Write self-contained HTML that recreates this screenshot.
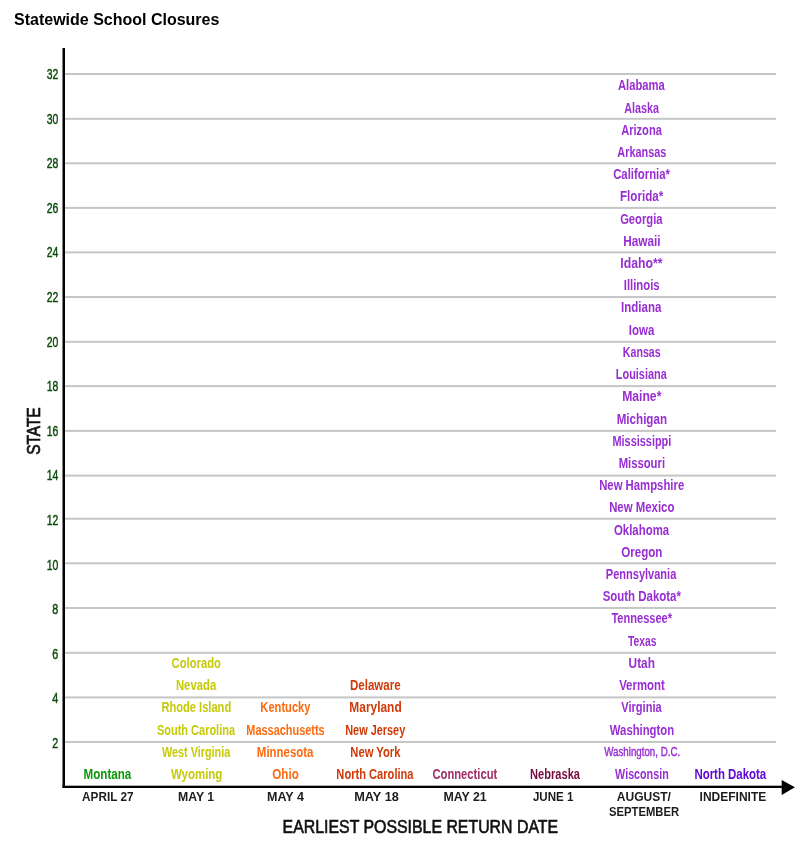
<!DOCTYPE html><html><head><meta charset="utf-8"><style>html,body{margin:0;padding:0;background:#fff;width:808px;height:844px;overflow:hidden}svg{display:block;will-change:transform}text{font-family:"Liberation Sans",sans-serif;font-weight:bold}</style></head><body>
<svg width="808" height="844" viewBox="0 0 808 844">
<rect width="808" height="844" fill="#fff"/>
<text x="14" y="25" font-size="16" fill="#000">Statewide School Closures</text>
<rect x="65" y="740.97" width="711.2" height="2" fill="#c6c6c6"/>
<rect x="65" y="696.40" width="711.2" height="2" fill="#c6c6c6"/>
<rect x="65" y="651.80" width="711.2" height="2" fill="#c6c6c6"/>
<rect x="65" y="606.95" width="711.2" height="2" fill="#c6c6c6"/>
<rect x="65" y="562.30" width="711.2" height="2" fill="#c6c6c6"/>
<rect x="65" y="517.70" width="711.2" height="2" fill="#c6c6c6"/>
<rect x="65" y="474.60" width="711.2" height="2" fill="#c6c6c6"/>
<rect x="65" y="429.90" width="711.2" height="2" fill="#c6c6c6"/>
<rect x="65" y="385.10" width="711.2" height="2" fill="#c6c6c6"/>
<rect x="65" y="340.80" width="711.2" height="2" fill="#c6c6c6"/>
<rect x="65" y="296.05" width="711.2" height="2" fill="#c6c6c6"/>
<rect x="65" y="251.37" width="711.2" height="2" fill="#c6c6c6"/>
<rect x="65" y="206.90" width="711.2" height="2" fill="#c6c6c6"/>
<rect x="65" y="162.27" width="711.2" height="2" fill="#c6c6c6"/>
<rect x="65" y="117.80" width="711.2" height="2" fill="#c6c6c6"/>
<rect x="65" y="73.00" width="711.2" height="2" fill="#c6c6c6"/>
<text x="58.30" y="747.95" font-size="14.3" fill="#0c4a0c" stroke="#0c4a0c" stroke-width="0.45" style="font-weight:normal" text-anchor="end" textLength="6.0" lengthAdjust="spacingAndGlyphs">2</text>
<text x="58.30" y="703.35" font-size="14.3" fill="#0c4a0c" stroke="#0c4a0c" stroke-width="0.45" style="font-weight:normal" text-anchor="end" textLength="6.0" lengthAdjust="spacingAndGlyphs">4</text>
<text x="58.30" y="658.74" font-size="14.3" fill="#0c4a0c" stroke="#0c4a0c" stroke-width="0.45" style="font-weight:normal" text-anchor="end" textLength="6.0" lengthAdjust="spacingAndGlyphs">6</text>
<text x="58.30" y="614.14" font-size="14.3" fill="#0c4a0c" stroke="#0c4a0c" stroke-width="0.45" style="font-weight:normal" text-anchor="end" textLength="6.0" lengthAdjust="spacingAndGlyphs">8</text>
<text x="58.30" y="569.54" font-size="14.3" fill="#0c4a0c" stroke="#0c4a0c" stroke-width="0.45" style="font-weight:normal" text-anchor="end" textLength="11.6" lengthAdjust="spacingAndGlyphs">10</text>
<text x="58.30" y="524.94" font-size="14.3" fill="#0c4a0c" stroke="#0c4a0c" stroke-width="0.45" style="font-weight:normal" text-anchor="end" textLength="11.6" lengthAdjust="spacingAndGlyphs">12</text>
<text x="58.30" y="480.33" font-size="14.3" fill="#0c4a0c" stroke="#0c4a0c" stroke-width="0.45" style="font-weight:normal" text-anchor="end" textLength="11.6" lengthAdjust="spacingAndGlyphs">14</text>
<text x="58.30" y="435.73" font-size="14.3" fill="#0c4a0c" stroke="#0c4a0c" stroke-width="0.45" style="font-weight:normal" text-anchor="end" textLength="11.6" lengthAdjust="spacingAndGlyphs">16</text>
<text x="58.30" y="391.13" font-size="14.3" fill="#0c4a0c" stroke="#0c4a0c" stroke-width="0.45" style="font-weight:normal" text-anchor="end" textLength="11.6" lengthAdjust="spacingAndGlyphs">18</text>
<text x="58.30" y="346.52" font-size="14.3" fill="#0c4a0c" stroke="#0c4a0c" stroke-width="0.45" style="font-weight:normal" text-anchor="end" textLength="11.6" lengthAdjust="spacingAndGlyphs">20</text>
<text x="58.30" y="301.92" font-size="14.3" fill="#0c4a0c" stroke="#0c4a0c" stroke-width="0.45" style="font-weight:normal" text-anchor="end" textLength="11.6" lengthAdjust="spacingAndGlyphs">22</text>
<text x="58.30" y="257.32" font-size="14.3" fill="#0c4a0c" stroke="#0c4a0c" stroke-width="0.45" style="font-weight:normal" text-anchor="end" textLength="11.6" lengthAdjust="spacingAndGlyphs">24</text>
<text x="58.30" y="212.71" font-size="14.3" fill="#0c4a0c" stroke="#0c4a0c" stroke-width="0.45" style="font-weight:normal" text-anchor="end" textLength="11.6" lengthAdjust="spacingAndGlyphs">26</text>
<text x="58.30" y="168.11" font-size="14.3" fill="#0c4a0c" stroke="#0c4a0c" stroke-width="0.45" style="font-weight:normal" text-anchor="end" textLength="11.6" lengthAdjust="spacingAndGlyphs">28</text>
<text x="58.30" y="123.51" font-size="14.3" fill="#0c4a0c" stroke="#0c4a0c" stroke-width="0.45" style="font-weight:normal" text-anchor="end" textLength="11.6" lengthAdjust="spacingAndGlyphs">30</text>
<text x="58.30" y="78.90" font-size="14.3" fill="#0c4a0c" stroke="#0c4a0c" stroke-width="0.45" style="font-weight:normal" text-anchor="end" textLength="11.6" lengthAdjust="spacingAndGlyphs">32</text>
<rect x="62.5" y="48" width="2.5" height="740" fill="#000"/>
<rect x="62.5" y="785.7" width="722" height="2.3" fill="#000"/>
<polygon points="781.7,779.9 794.9,787.2 781.7,795" fill="#000"/>
<text transform="translate(39.8,431.1) rotate(-90)" font-size="18.6" fill="#111" stroke="#111" stroke-width="0.7" style="font-weight:normal" text-anchor="middle" textLength="47.5" lengthAdjust="spacingAndGlyphs">STATE</text>
<text x="282.60" y="832.7" font-size="17.8" fill="#111" stroke="#111" stroke-width="0.6" style="font-weight:normal" textLength="275.5" lengthAdjust="spacingAndGlyphs">EARLIEST POSSIBLE RETURN DATE</text>
<text x="107.77" y="801.00" font-size="12.6" fill="#1c1c1c" text-anchor="middle" textLength="51.40" lengthAdjust="spacingAndGlyphs">APRIL 27</text>
<text x="196.05" y="801.00" font-size="12.6" fill="#1c1c1c" text-anchor="middle" textLength="36.21" lengthAdjust="spacingAndGlyphs">MAY 1</text>
<text x="285.50" y="801.00" font-size="12.6" fill="#1c1c1c" text-anchor="middle" textLength="36.95" lengthAdjust="spacingAndGlyphs">MAY 4</text>
<text x="376.54" y="801.00" font-size="12.6" fill="#1c1c1c" text-anchor="middle" textLength="44.66" lengthAdjust="spacingAndGlyphs">MAY 18</text>
<text x="465.07" y="801.00" font-size="12.6" fill="#1c1c1c" text-anchor="middle" textLength="43.30" lengthAdjust="spacingAndGlyphs">MAY 21</text>
<text x="553.13" y="801.00" font-size="12.6" fill="#1c1c1c" text-anchor="middle" textLength="40.48" lengthAdjust="spacingAndGlyphs">JUNE 1</text>
<text x="643.89" y="801.00" font-size="12.6" fill="#1c1c1c" text-anchor="middle" textLength="54.11" lengthAdjust="spacingAndGlyphs">AUGUST/</text>
<text x="644.09" y="815.60" font-size="12.6" fill="#1c1c1c" text-anchor="middle" textLength="69.94" lengthAdjust="spacingAndGlyphs">SEPTEMBER</text>
<text x="732.93" y="800.80" font-size="12.6" fill="#1c1c1c" text-anchor="middle" textLength="66.74" lengthAdjust="spacingAndGlyphs">INDEFINITE</text>
<text x="107.45" y="779.00" font-size="14.3" fill="#0a960a" text-anchor="middle" textLength="47.74" lengthAdjust="spacingAndGlyphs">Montana</text>
<text x="196.24" y="667.92" font-size="14.3" fill="#c6ca08" text-anchor="middle" textLength="49.31" lengthAdjust="spacingAndGlyphs">Colorado</text>
<text x="196.06" y="690.14" font-size="14.3" fill="#c6ca08" text-anchor="middle" textLength="40.26" lengthAdjust="spacingAndGlyphs">Nevada</text>
<text x="196.32" y="712.35" font-size="14.3" fill="#c6ca08" text-anchor="middle" textLength="69.80" lengthAdjust="spacingAndGlyphs">Rhode Island</text>
<text x="195.99" y="734.57" font-size="14.3" fill="#c6ca08" text-anchor="middle" textLength="78.10" lengthAdjust="spacingAndGlyphs">South Carolina</text>
<text x="196.14" y="756.78" font-size="14.3" fill="#c6ca08" text-anchor="middle" textLength="68.13" lengthAdjust="spacingAndGlyphs">West Virginia</text>
<text x="196.64" y="779.00" font-size="14.3" fill="#c6ca08" text-anchor="middle" textLength="51.42" lengthAdjust="spacingAndGlyphs">Wyoming</text>
<text x="285.43" y="712.35" font-size="14.3" fill="#fd6a10" text-anchor="middle" textLength="50.19" lengthAdjust="spacingAndGlyphs">Kentucky</text>
<text x="285.49" y="734.57" font-size="14.3" fill="#fd6a10" text-anchor="middle" textLength="78.32" lengthAdjust="spacingAndGlyphs">Massachusetts</text>
<text x="285.14" y="756.78" font-size="14.3" fill="#fd6a10" text-anchor="middle" textLength="56.58" lengthAdjust="spacingAndGlyphs">Minnesota</text>
<text x="285.54" y="779.00" font-size="14.3" fill="#fd6a10" text-anchor="middle" textLength="26.53" lengthAdjust="spacingAndGlyphs">Ohio</text>
<text x="375.32" y="690.14" font-size="14.3" fill="#cf3a08" text-anchor="middle" textLength="50.70" lengthAdjust="spacingAndGlyphs">Delaware</text>
<text x="375.52" y="712.35" font-size="14.3" fill="#cf3a08" text-anchor="middle" textLength="52.30" lengthAdjust="spacingAndGlyphs">Maryland</text>
<text x="375.26" y="734.57" font-size="14.3" fill="#cf3a08" text-anchor="middle" textLength="59.99" lengthAdjust="spacingAndGlyphs">New Jersey</text>
<text x="375.39" y="756.78" font-size="14.3" fill="#cf3a08" text-anchor="middle" textLength="50.09" lengthAdjust="spacingAndGlyphs">New York</text>
<text x="374.95" y="779.00" font-size="14.3" fill="#cf3a08" text-anchor="middle" textLength="77.18" lengthAdjust="spacingAndGlyphs">North Carolina</text>
<text x="464.88" y="779.00" font-size="14.3" fill="#a02c66" text-anchor="middle" textLength="64.90" lengthAdjust="spacingAndGlyphs">Connecticut</text>
<text x="555.06" y="779.00" font-size="14.3" fill="#740c3e" text-anchor="middle" textLength="49.90" lengthAdjust="spacingAndGlyphs">Nebraska</text>
<text x="641.40" y="90.30" font-size="14.3" fill="#982ed2" text-anchor="middle" textLength="47.00" lengthAdjust="spacingAndGlyphs">Alabama</text>
<text x="641.52" y="112.52" font-size="14.3" fill="#982ed2" text-anchor="middle" textLength="34.77" lengthAdjust="spacingAndGlyphs">Alaska</text>
<text x="641.50" y="134.74" font-size="14.3" fill="#982ed2" text-anchor="middle" textLength="40.65" lengthAdjust="spacingAndGlyphs">Arizona</text>
<text x="641.81" y="156.95" font-size="14.3" fill="#982ed2" text-anchor="middle" textLength="48.96" lengthAdjust="spacingAndGlyphs">Arkansas</text>
<text x="641.59" y="179.17" font-size="14.3" fill="#982ed2" text-anchor="middle" textLength="56.92" lengthAdjust="spacingAndGlyphs">California*</text>
<text x="641.62" y="201.38" font-size="14.3" fill="#982ed2" text-anchor="middle" textLength="43.30" lengthAdjust="spacingAndGlyphs">Florida*</text>
<text x="641.36" y="223.60" font-size="14.3" fill="#982ed2" text-anchor="middle" textLength="42.47" lengthAdjust="spacingAndGlyphs">Georgia</text>
<text x="641.89" y="245.82" font-size="14.3" fill="#982ed2" text-anchor="middle" textLength="37.44" lengthAdjust="spacingAndGlyphs">Hawaii</text>
<text x="641.40" y="268.03" font-size="14.3" fill="#982ed2" text-anchor="middle" textLength="42.17" lengthAdjust="spacingAndGlyphs">Idaho**</text>
<text x="641.72" y="290.25" font-size="14.3" fill="#982ed2" text-anchor="middle" textLength="35.83" lengthAdjust="spacingAndGlyphs">Illinois</text>
<text x="641.17" y="312.46" font-size="14.3" fill="#982ed2" text-anchor="middle" textLength="40.33" lengthAdjust="spacingAndGlyphs">Indiana</text>
<text x="641.52" y="334.68" font-size="14.3" fill="#982ed2" text-anchor="middle" textLength="25.52" lengthAdjust="spacingAndGlyphs">Iowa</text>
<text x="641.72" y="356.90" font-size="14.3" fill="#982ed2" text-anchor="middle" textLength="37.78" lengthAdjust="spacingAndGlyphs">Kansas</text>
<text x="641.31" y="379.11" font-size="14.3" fill="#982ed2" text-anchor="middle" textLength="50.97" lengthAdjust="spacingAndGlyphs">Louisiana</text>
<text x="641.76" y="401.33" font-size="14.3" fill="#982ed2" text-anchor="middle" textLength="39.27" lengthAdjust="spacingAndGlyphs">Maine*</text>
<text x="641.85" y="423.54" font-size="14.3" fill="#982ed2" text-anchor="middle" textLength="50.41" lengthAdjust="spacingAndGlyphs">Michigan</text>
<text x="641.88" y="445.76" font-size="14.3" fill="#982ed2" text-anchor="middle" textLength="58.83" lengthAdjust="spacingAndGlyphs">Mississippi</text>
<text x="641.83" y="467.98" font-size="14.3" fill="#982ed2" text-anchor="middle" textLength="46.40" lengthAdjust="spacingAndGlyphs">Missouri</text>
<text x="641.69" y="490.19" font-size="14.3" fill="#982ed2" text-anchor="middle" textLength="85.09" lengthAdjust="spacingAndGlyphs">New Hampshire</text>
<text x="641.77" y="512.41" font-size="14.3" fill="#982ed2" text-anchor="middle" textLength="65.25" lengthAdjust="spacingAndGlyphs">New Mexico</text>
<text x="641.54" y="534.62" font-size="14.3" fill="#982ed2" text-anchor="middle" textLength="55.21" lengthAdjust="spacingAndGlyphs">Oklahoma</text>
<text x="641.85" y="556.84" font-size="14.3" fill="#982ed2" text-anchor="middle" textLength="41.14" lengthAdjust="spacingAndGlyphs">Oregon</text>
<text x="641.08" y="579.06" font-size="14.3" fill="#982ed2" text-anchor="middle" textLength="70.43" lengthAdjust="spacingAndGlyphs">Pennsylvania</text>
<text x="641.80" y="601.27" font-size="14.3" fill="#982ed2" text-anchor="middle" textLength="78.32" lengthAdjust="spacingAndGlyphs">South Dakota*</text>
<text x="641.71" y="623.49" font-size="14.3" fill="#982ed2" text-anchor="middle" textLength="60.67" lengthAdjust="spacingAndGlyphs">Tennessee*</text>
<text x="642.20" y="645.70" font-size="14.3" fill="#982ed2" text-anchor="middle" textLength="28.56" lengthAdjust="spacingAndGlyphs">Texas</text>
<text x="641.77" y="667.92" font-size="14.3" fill="#982ed2" text-anchor="middle" textLength="26.36" lengthAdjust="spacingAndGlyphs">Utah</text>
<text x="641.93" y="690.14" font-size="14.3" fill="#982ed2" text-anchor="middle" textLength="45.57" lengthAdjust="spacingAndGlyphs">Vermont</text>
<text x="641.50" y="712.35" font-size="14.3" fill="#982ed2" text-anchor="middle" textLength="40.49" lengthAdjust="spacingAndGlyphs">Virginia</text>
<text x="641.97" y="734.57" font-size="14.3" fill="#982ed2" text-anchor="middle" textLength="64.20" lengthAdjust="spacingAndGlyphs">Washington</text>
<text x="642.17" y="756.10" font-size="13.5" fill="#982ed2" stroke="#982ed2" stroke-width="0.45" style="font-weight:normal" text-anchor="middle" textLength="75.98" lengthAdjust="spacingAndGlyphs">Washington, D.C.</text>
<text x="641.91" y="779.00" font-size="14.3" fill="#982ed2" text-anchor="middle" textLength="53.58" lengthAdjust="spacingAndGlyphs">Wisconsin</text>
<text x="730.31" y="779.00" font-size="14.3" fill="#6008d6" text-anchor="middle" textLength="71.86" lengthAdjust="spacingAndGlyphs">North Dakota</text>
</svg></body></html>
